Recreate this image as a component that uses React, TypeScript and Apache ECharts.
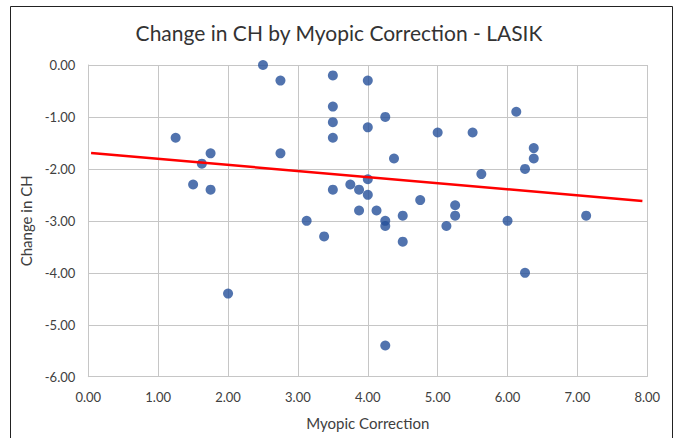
import React, { useEffect, useRef } from "react";
import * as echarts from "echarts";

const myopicCorrection = [
  2.5, 2.75, 3.5, 4.0, 3.5, 3.5, 4.0, 1.25, 3.5, 1.75, 2.75, 1.625, 1.5, 1.75, 4.0,
  3.5, 3.75, 3.875, 4.0, 3.875, 4.125, 3.125, 3.375, 4.25, 6.125, 5.0, 5.5, 6.375,
  6.375, 4.375, 6.25, 5.625, 4.75, 5.25, 4.5, 5.25, 7.125, 4.25, 4.25, 5.125, 6.0,
  4.5, 2.0, 6.25, 4.25,
];
const changeInCH = [
  0.0, -0.3, -0.2, -0.3, -0.8, -1.1, -1.2, -1.4, -1.4, -1.7, -1.7, -1.9, -2.3, -2.4,
  -2.2, -2.4, -2.3, -2.4, -2.5, -2.8, -2.8, -3.0, -3.3, -1.0, -0.9, -1.3, -1.3, -1.6,
  -1.8, -1.8, -2.0, -2.1, -2.6, -2.7, -2.9, -2.9, -2.9, -3.0, -3.1, -3.1, -3.0, -3.4,
  -4.4, -4.0, -5.4,
];
const trendX = [0.04, 7.93];
const trendY = [-1.694, -2.618];

const xTicks = { min: 0, max: 8, interval: 1 };
const yTicks = { min: -6, max: 0, interval: 1 };

export default function App() {
  const ref = useRef<HTMLDivElement>(null);
  useEffect(() => {
    if (!ref.current) return;
    const chart = echarts.init(ref.current, null, { renderer: "svg" });
    const font = "Lato, 'Open Sans', sans-serif";
    const gridColor = "#c6c6c6";
    chart.setOption({
      animation: false,
      backgroundColor: "#ffffff",
      textStyle: { fontFamily: font },
      title: {
        text: "Change in CH by Myopic Correction - LASIK",
        left: "center",
        top: 17,
        textStyle: { fontFamily: font, fontSize: 21, fontWeight: "normal", color: "#333333" },
      },
      graphic: [
        {
          type: "rect",
          shape: { x: 10.5, y: 6.5, width: 662, height: 450 },
          style: { fill: "none", stroke: "#222222", lineWidth: 1 },
          silent: true,
        },
      ],
      grid: { left: 88.3, top: 65, right: 30.7, bottom: 61.3 },
      xAxis: {
        type: "value",
        min: xTicks.min,
        max: xTicks.max,
        interval: xTicks.interval,
        name: "Myopic Correction",
        nameLocation: "middle",
        nameGap: 39,
        nameTextStyle: { fontFamily: font, fontSize: 15, color: "#404040" },
        axisLine: { show: true, onZero: false, lineStyle: { color: gridColor } },
        axisTick: { show: false },
        axisLabel: {
          margin: 14,
          fontSize: 13,
          color: "#404040",
          fontFamily: font,
          formatter: (v: number) => v.toFixed(2),
        },
        splitLine: { show: true, lineStyle: { color: gridColor, width: 1 } },
      },
      yAxis: {
        type: "value",
        min: yTicks.min,
        max: yTicks.max,
        interval: yTicks.interval,
        name: "Change in CH",
        nameLocation: "middle",
        nameGap: 52,
        nameTextStyle: { fontFamily: font, fontSize: 15, color: "#404040" },
        axisLine: { show: true, onZero: false, lineStyle: { color: gridColor } },
        axisTick: { show: false },
        axisLabel: {
          margin: 13,
          fontSize: 13,
          color: "#404040",
          fontFamily: font,
          formatter: (v: number) => v.toFixed(2),
        },
        splitLine: { show: true, lineStyle: { color: gridColor, width: 1 } },
      },
      series: [
        {
          type: "scatter",
          symbol: "circle",
          symbolSize: 10,
          itemStyle: { color: "#25509a" },
          data: myopicCorrection.map((x, i) => [x, changeInCH[i]]),
        },
        {
          type: "line",
          symbol: "none",
          lineStyle: { color: "#ff0000", width: 2.5 },
          data: trendX.map((x, i) => [x, trendY[i]]),
          z: 3,
        },
      ],
    });
    return () => chart.dispose();
  }, []);
  return (
    <div
      ref={ref}
      style={{ position: "fixed", left: 0, top: 0, width: 678, height: 438, background: "#fff" }}
    />
  );
}
